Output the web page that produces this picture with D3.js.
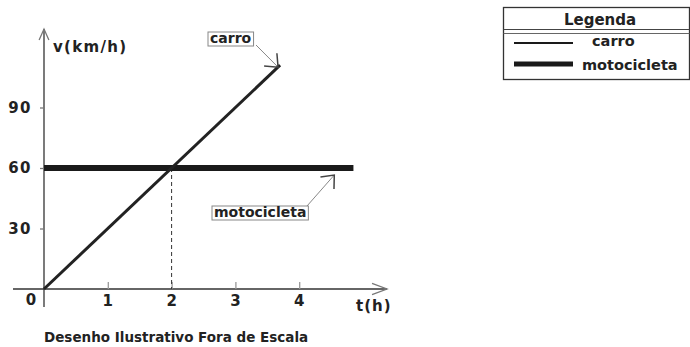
<!DOCTYPE html>
<html>
<head>
<meta charset="utf-8">
<script src="https://cdn.jsdelivr.net/npm/d3@7"></script>
<style>
  body { margin: 0; background: #fff; }
  text { font-family: "DejaVu Sans", Verdana, sans-serif; font-weight: bold; fill: #222; }
</style>
</head>
<body>
<svg id="chart"></svg>
<script>
// chart values
const tTicks = [1, 2, 3, 4];
const vTicks = [30, 60, 90];
const carT = [0, 3.7];
const carV = [0, 111];
const motoT = [0, 4.85];
const motoV = [60, 60];
const meetT = 2;
const meetV = 60;
const legendNames = ["carro", "motocicleta"];

const width = 690, height = 347;
const svg = d3.select("#chart").attr("width", width).attr("height", height);

// scales
const x = d3.scaleLinear().domain([0, 4]).range([44, 299.2]);
const y = d3.scaleLinear().domain([0, 90]).range([289, 107.5]);

const toPts = (ts, vs) => ts.map((t, i) => ({ t: t, v: vs[i] }));
const line = d3.line().x(d => x(d.t)).y(d => y(d.v));

// open arrow head helper
function arrowHead(g, tx, ty, ang, len, spread, color, w) {
  const a1 = ang + Math.PI - spread, a2 = ang + Math.PI + spread;
  g.append("path")
    .attr("d", `M${tx + Math.cos(a1) * len},${ty + Math.sin(a1) * len}L${tx},${ty}L${tx + Math.cos(a2) * len},${ty + Math.sin(a2) * len}`)
    .attr("fill", "none")
    .attr("stroke", color)
    .attr("stroke-width", w);
}

// axis lines with arrows
svg.append("line").attr("x1", 13).attr("y1", y(0)).attr("x2", 387).attr("y2", y(0))
  .attr("stroke", "#333").attr("stroke-width", 1.3);
arrowHead(svg, 387, y(0), 0, 16, 0.36, "#777", 1.3);
svg.append("line").attr("x1", x(0)).attr("y1", 307).attr("x2", x(0)).attr("y2", 29)
  .attr("stroke", "#333").attr("stroke-width", 1.3);
arrowHead(svg, x(0), 29, -Math.PI / 2, 12, 0.42, "#777", 1.3);

// x axis ticks
const xAxis = svg.append("g")
  .attr("transform", `translate(0,${y(0)})`)
  .call(d3.axisBottom(x).tickValues(tTicks).tickSize(-7).tickPadding(6).tickFormat(d3.format("d")));
xAxis.select(".domain").remove();
xAxis.selectAll(".tick line").attr("stroke", "#999").attr("stroke-width", 1.3);
xAxis.selectAll(".tick text").attr("font-size", 15).attr("letter-spacing", 1)
  .attr("font-family", null).attr("fill", "#222");

// y axis ticks
const yAxis = svg.append("g")
  .attr("transform", `translate(${x(0)},0)`)
  .call(d3.axisLeft(y).tickValues(vTicks).tickSize(4).tickPadding(8));
yAxis.select(".domain").remove();
yAxis.selectAll(".tick line").attr("stroke", "#777").attr("stroke-width", 1.3);
yAxis.selectAll(".tick text").attr("font-size", 15).attr("letter-spacing", 1.5)
  .attr("font-family", null).attr("fill", "#222");

// origin label and axis titles
svg.append("text").attr("x", 31).attr("y", 305).attr("text-anchor", "middle")
  .attr("font-size", 15).text("0");
svg.append("text").attr("x", 53).attr("y", 52).attr("font-size", 15)
  .attr("letter-spacing", 1.3).text("v(km/h)");
svg.append("text").attr("x", 356).attr("y", 311).attr("font-size", 15)
  .attr("letter-spacing", 1).text("t(h)");

// dashed guide at meeting point
svg.append("line")
  .attr("x1", x(meetT)).attr("y1", y(meetV))
  .attr("x2", x(meetT)).attr("y2", y(0))
  .attr("stroke", "#333").attr("stroke-width", 1).attr("stroke-dasharray", "4,3");

// series
svg.append("path").datum(toPts(motoT, motoV)).attr("d", line)
  .attr("fill", "none").attr("stroke", "#1a1a1a").attr("stroke-width", 6);
svg.append("path").datum(toPts(carT, carV)).attr("d", line)
  .attr("fill", "none").attr("stroke", "#222").attr("stroke-width", 3);

// callout boxes
function callout(label, tx, ty, bx, by, tipX, tipY) {
  const g = svg.append("g");
  const txt = g.append("text").attr("x", tx).attr("y", ty).attr("font-size", 14).text(label);
  const bb = txt.node().getBBox();
  g.insert("rect", "text")
    .attr("x", bb.x - 2).attr("y", ty - 11)
    .attr("width", bb.width + 4).attr("height", 14)
    .attr("fill", "#fff").attr("stroke", "#888").attr("stroke-width", 1);
  g.append("line").attr("x1", bx).attr("y1", by).attr("x2", tipX).attr("y2", tipY)
    .attr("stroke", "#888").attr("stroke-width", 1);
  arrowHead(g, tipX, tipY, Math.atan2(tipY - by, tipX - bx), 14, 0.7, "#444", 1.5);
}
callout("carro", 210, 43, 256, 45, x(carT[1]) - 2, y(carV[1]) + 2);
callout("motocicleta", 214, 217, 307, 206, x(4.55), y(motoV[0]) + 7);

// legend
const leg = svg.append("g");
leg.append("rect").attr("x", 503.5).attr("y", 7.5).attr("width", 186).attr("height", 72)
  .attr("fill", "none").attr("stroke", "#333").attr("stroke-width", 1.3);
leg.append("line").attr("x1", 503.5).attr("x2", 689.5).attr("y1", 29.5).attr("y2", 29.5)
  .attr("stroke", "#444").attr("stroke-width", 1.2);
leg.append("line").attr("x1", 503.5).attr("x2", 689.5).attr("y1", 33.5).attr("y2", 33.5)
  .attr("stroke", "#666").attr("stroke-width", 1);
leg.append("text").attr("x", 600).attr("y", 25).attr("text-anchor", "middle")
  .attr("font-size", 15).text("Legenda");
const legY = [43, 64], legW = [2, 5], legTx = [592, 582], legTy = [46, 70];
legendNames.forEach((n, i) => {
  leg.append("line").attr("x1", 514).attr("x2", 573).attr("y1", legY[i]).attr("y2", legY[i])
    .attr("stroke", "#1a1a1a").attr("stroke-width", legW[i]);
  leg.append("text").attr("x", legTx[i]).attr("y", legTy[i]).attr("font-size", 14.5).text(n);
});

// footer note
svg.append("text").attr("x", 44).attr("y", 342).attr("font-size", 13.5)
  .text("Desenho Ilustrativo Fora de Escala");
</script>
</body>
</html>
